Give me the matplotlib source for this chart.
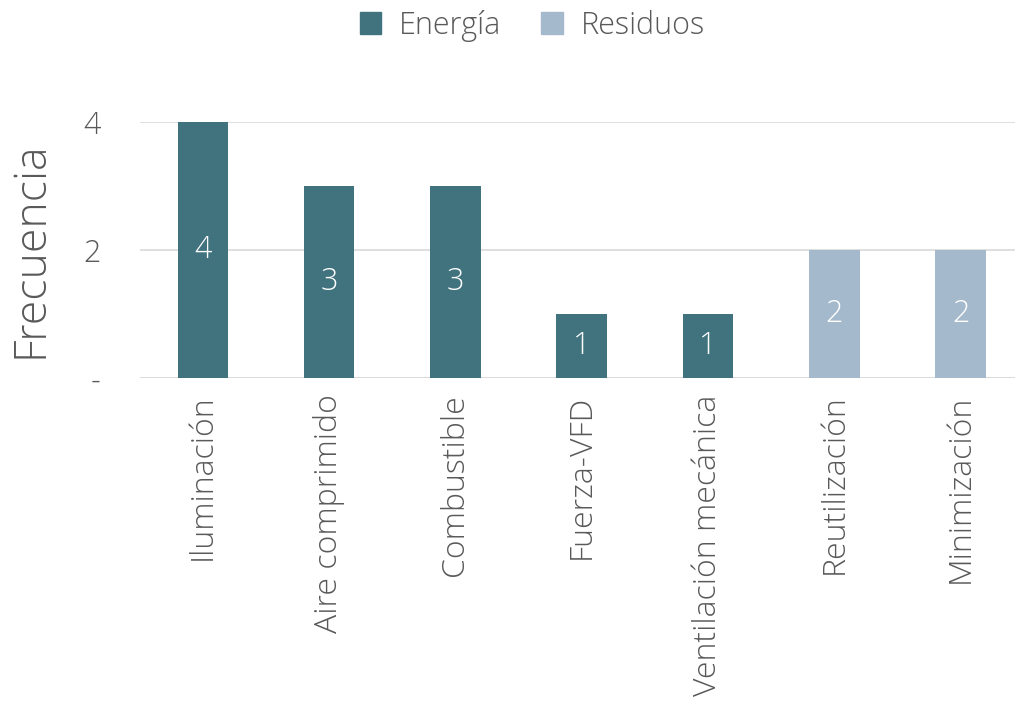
import matplotlib.pyplot as plt
from matplotlib.patches import Patch

categorias = ["Iluminación", "Aire comprimido", "Combustible", "Fuerza-VFD",
              "Ventilación mecánica", "Reutilización", "Minimización"]
frecuencia = [4, 3, 3, 1, 1, 2, 2]
grupo = ["Energía", "Energía", "Energía", "Energía", "Energía", "Residuos", "Residuos"]
colores = {"Energía": "#41737F", "Residuos": "#A5B9CC"}

plt.rcParams['font.family'] = ['Open Sans', 'DejaVu Sans']
gris = "#595959"

fig = plt.figure(figsize=(10.2, 7.05), dpi=100)
ax = fig.add_axes([0.137, 0.464, 0.858, 0.363])

x = range(len(categorias))
bars = ax.bar(x, frecuencia, width=0.4, color=[colores[g] for g in grupo], zorder=3)
for b, v in zip(bars, frecuencia):
    ax.text(b.get_x() + b.get_width() / 2, v / 2, str(v), ha='center', va='center',
            color='white', fontsize=22, fontweight='light', zorder=4)

ax.set_xlim(-0.5, 6.43)
ax.set_ylim(0, 4)
ax.set_yticks([0, 2, 4])
ax.set_yticklabels(["-", "2", "4"])
ax.set_xticks(list(x))
ax.set_xticklabels(categorias, rotation=90)
ax.tick_params(axis='both', length=0, colors=gris)
ax.tick_params(axis='y', pad=28, labelsize=22)
ax.tick_params(axis='x', pad=12, labelsize=23)
for lbl in ax.get_xticklabels() + ax.get_yticklabels():
    lbl.set_fontweight('light')

ax.grid(axis='y', color='#D9D9D9', linewidth=1.2, zorder=0)
for s in ax.spines.values():
    s.set_visible(False)
ax.axhline(0, color='#D9D9D9', linewidth=1.2, zorder=2)

ax.set_ylabel("Frecuencia", fontsize=32, color=gris, fontweight='light')
ax.yaxis.set_label_coords(-0.098, 0.5)

handles = [Patch(color=colores[k], label=k) for k in colores]
leg = fig.legend(handles=handles, loc='upper center', bbox_to_anchor=(0.522, 1.025),
                 ncol=2, frameon=False, fontsize=22, handlelength=0.7, handleheight=0.7,
                 columnspacing=1.3, handletextpad=0.6)
for t in leg.get_texts():
    t.set_color(gris)
    t.set_fontweight('light')

plt.savefig("out.png", dpi=100)
